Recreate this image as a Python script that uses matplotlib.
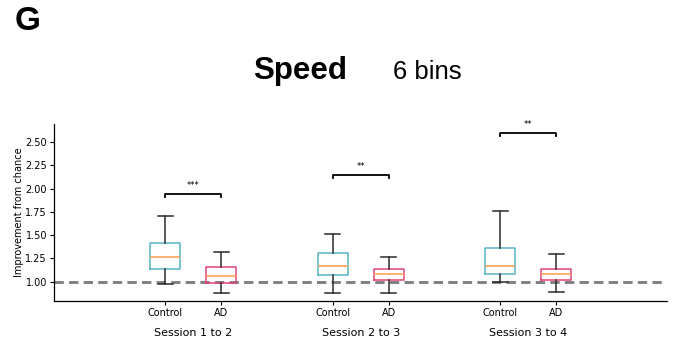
import matplotlib
matplotlib.use("Agg")
import matplotlib.pyplot as plt

# Five-number summaries per session (whisker low, Q1, median, Q3, whisker high)
sessions = ["Session 1 to 2", "Session 2 to 3", "Session 3 to 4"]
groups = ["Control", "AD"]

control_whislo = [0.975, 0.879, 0.997]
control_q1 = [1.140, 1.069, 1.083]
control_med = [1.262, 1.169, 1.169]
control_q3 = [1.419, 1.308, 1.362]
control_whishi = [1.706, 1.512, 1.756]

ad_whislo = [0.875, 0.879, 0.886]
ad_q1 = [0.990, 1.015, 1.015]
ad_med = [1.061, 1.086, 1.086]
ad_q3 = [1.158, 1.136, 1.140]
ad_whishi = [1.316, 1.262, 1.294]

sig_labels = ["***", "**", "**"]
sig_heights = [1.945, 2.146, 2.597]

chance_level = 1.0
yticks = [1.00, 1.25, 1.50, 1.75, 2.00, 2.25, 2.50]

CONTROL_COLOR = "#5ab4c8"
AD_COLOR = "#e0457b"
MEDIAN_COLOR = "#f9a35a"
WHISKER_COLOR = "#2b2b2b"

fig = plt.figure(figsize=(6.78, 3.43), dpi=100)
ax = fig.add_axes([0.0796, 0.1224, 0.9042, 0.5161])

offset = 0.1675
width = 0.18


def stats(lo, q1, med, q3, hi):
    return dict(whislo=lo, q1=q1, med=med, q3=q3, whishi=hi, fliers=[])


ctrl_pos = [i - offset for i in range(len(sessions))]
ad_pos = [i + offset for i in range(len(sessions))]

for positions, arrays, color in [
    (ctrl_pos, (control_whislo, control_q1, control_med, control_q3, control_whishi), CONTROL_COLOR),
    (ad_pos, (ad_whislo, ad_q1, ad_med, ad_q3, ad_whishi), AD_COLOR),
]:
    st = [stats(*vals) for vals in zip(*arrays)]
    ax.bxp(st, positions=positions, widths=width, showfliers=False,
           boxprops=dict(color=color, linewidth=1.1),
           medianprops=dict(color=MEDIAN_COLOR, linewidth=1.2),
           whiskerprops=dict(color=WHISKER_COLOR, linewidth=1.1),
           capprops=dict(color=WHISKER_COLOR, linewidth=1.1),
           manage_ticks=False)

ax.axhline(chance_level, color="#808080", linewidth=2.1, dashes=(3.2, 1.8), zorder=0.5)

# significance brackets
for i, (lab, h) in enumerate(zip(sig_labels, sig_heights)):
    x0, x1 = ctrl_pos[i], ad_pos[i]
    ax.plot([x0, x0, x1, x1], [h - 0.03, h, h, h - 0.03], color="black", linewidth=1.3)
    ax.text((x0 + x1) / 2, h + 0.04, lab, ha="center", va="bottom", fontsize=6)

ax.set_xlim(-0.833, 2.83)
ax.set_ylim(0.793, 2.694)
ax.set_yticks(yticks)
ax.set_yticklabels([f"{v:.2f}" for v in yticks], fontsize=7)
ax.set_xticks(ctrl_pos + ad_pos)
ax.set_xticklabels([groups[0]] * 3 + [groups[1]] * 3, fontsize=7)
ax.tick_params(length=3, width=0.8, pad=2)
ax.set_ylabel("Improvement from chance", fontsize=7, labelpad=1)
for s in ["top", "right"]:
    ax.spines[s].set_visible(False)
for s in ["left", "bottom"]:
    ax.spines[s].set_linewidth(0.9)

for i, name in enumerate(sessions):
    ax.text(i, -0.18, name, transform=ax.get_xaxis_transform(), ha="center", va="center", fontsize=8)

fig.text(15 / 678, 1 - 21 / 343, "G", fontsize=24, fontweight="bold",
         family="Liberation Sans", ha="left", va="center")
fig.text(253 / 678, 1 - 79 / 343, "Speed", fontsize=22.5, fontweight="bold",
         family="Liberation Sans", ha="left", va="baseline")
fig.text(393 / 678, 1 - 79 / 343, "6 bins", fontsize=18.5,
         family="Liberation Sans", ha="left", va="baseline")

fig.savefig("out.png", dpi=100)
